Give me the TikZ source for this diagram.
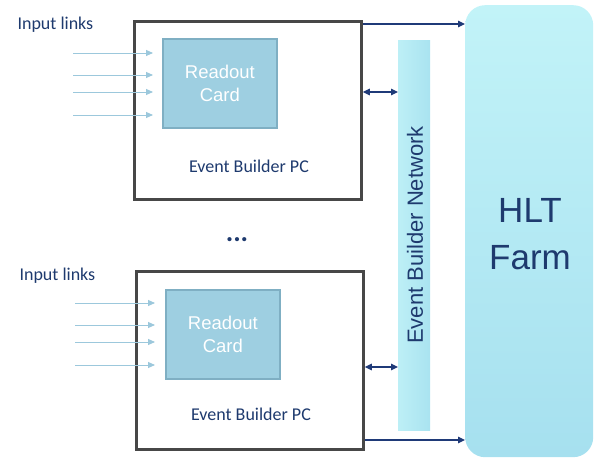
\documentclass[tikz,border=0pt]{standalone}
\usepackage{fontspec}
\setmainfont{Liberation Sans}
\newfontfamily\calib{Carlito}
\usetikzlibrary{arrows.meta,positioning}
\definecolor{navy}{HTML}{1F3A78}
\definecolor{navytext}{HTML}{1E3A6E}
\definecolor{cardfill}{HTML}{9ECFE1}
\definecolor{cardborder}{HTML}{7FAFC3}
\definecolor{inlink}{HTML}{9CC8DC}
\definecolor{boxborder}{HTML}{474747}
\definecolor{hlttop}{HTML}{C2F3F8}
\definecolor{hltbot}{HTML}{A6E0EF}
\definecolor{ebntop}{HTML}{BDEFF6}
\definecolor{ebnbot}{HTML}{A9E3F0}
\tikzset{
  pcbox/.style={draw=boxborder, line width=2.8pt, fill=white},
  cardbox/.style={draw=cardborder, line width=1.8pt, fill=cardfill, text=white, align=center, font=\fontsize{18.5}{23}\selectfont},
  inarrow/.style={draw=inlink, line width=0.9pt, -{Triangle[length=7pt,width=6pt]}},
  darrow/.style={draw=navy, line width=1.2pt, -{Triangle[length=7pt,width=6.5pt]}},
  biarrow/.style={draw=navy, line width=1.2pt, {Triangle[length=7pt,width=6.5pt]}-{Triangle[length=7pt,width=6.5pt]}},
  navylabel/.style={text=navytext, font=\calib\fontsize{18}{20}\selectfont},
}
\begin{document}
\begin{tikzpicture}[x=1pt,y=-1pt]
\useasboundingbox (0,0) rectangle (597,462);
% HLT farm
\node[draw=none, rounded corners=20pt, top color=hlttop, bottom color=hltbot, minimum width=128pt, minimum height=452pt, anchor=north west, inner sep=0pt] (hlt) at (465,5) {};
\node[text=navytext, align=center, font=\fontsize{35}{47}\selectfont] (hlttext) at (530,234) {HLT\\Farm};
% EBN bar
\node[left color=ebntop, right color=ebnbot, draw=none, minimum width=32pt, minimum height=390pt, anchor=north west, inner sep=0pt] (ebn) at (398,40) {};
\node[rotate=90, text=navytext, font=\fontsize{22}{24}\selectfont] (ebntext) at (415,235) {Event Builder Network};
% top PC
\node[pcbox, minimum width=227pt, minimum height=178pt, anchor=north west, inner sep=0pt] (pc1) at (133,20) {};
\node[cardbox, minimum width=114pt, minimum height=89pt, anchor=north west, inner sep=0pt] (card1) at (162,38) {Readout\\Card};
\node[navylabel] (pc1lab) at (249,166) {Event Builder PC};
\node[navylabel, anchor=west] (in1) at (14,25) {Input links};
\foreach \yy/\nm in {53/a,75/b,92/c,115/d}{
  \coordinate (s1\nm) at (73,\yy);
  \coordinate (e1\nm) at (153,\yy);
  \draw[inarrow] (s1\nm) -- (e1\nm);
}
% bottom PC
\node[pcbox, minimum width=227pt, minimum height=178pt, anchor=north west, inner sep=0pt] (pc2) at (135,270) {};
\node[cardbox, minimum width=114pt, minimum height=89pt, anchor=north west, inner sep=0pt] (card2) at (165,289) {Readout\\Card};
\node[navylabel] (pc2lab) at (251,414) {Event Builder PC};
\node[navylabel, anchor=west] (in2) at (16,276) {Input links};
\foreach \yy/\nm in {303/a,325/b,342/c,365/d}{
  \coordinate (s2\nm) at (75,\yy);
  \coordinate (e2\nm) at (155,\yy);
  \draw[inarrow] (s2\nm) -- (e2\nm);
}
% dots
\node[text=navytext, font=\calib\bfseries\fontsize{28}{30}\selectfont] (dots) at (237,240) {...};
% arrows
\draw[darrow] (pc1.east|-0,24) -- (hlt.west|-0,24);
\draw[biarrow] (pc1.east|-0,92) -- (ebn.west|-0,92);
\draw[biarrow] (pc2.east|-0,367) -- (ebn.west|-0,367);
\draw[darrow] (pc2.east|-0,440) -- (hlt.west|-0,440);
\end{tikzpicture}
\end{document}
